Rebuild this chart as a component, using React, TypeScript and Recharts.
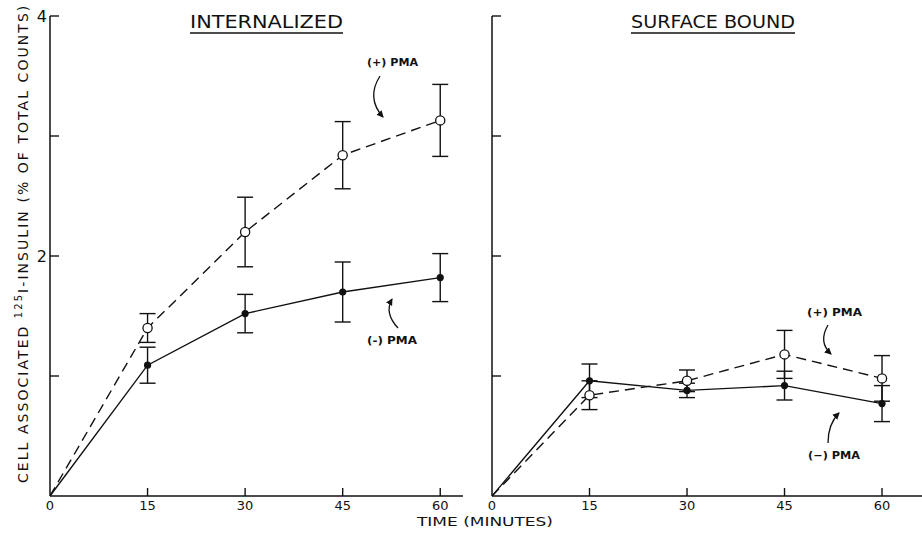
import { ErrorBar, Line, LineChart, XAxis, YAxis } from "recharts";

const times = [0, 15, 30, 45, 60];
const yTicks = [0, 1, 2, 3, 4];

// internalized
const intPlus = [0, 1.40, 2.20, 2.84, 3.13];
const intPlusErr = [0, 0.12, 0.29, 0.28, 0.30];
const intMinus = [0, 1.09, 1.52, 1.70, 1.82];
const intMinusErr = [0, 0.15, 0.16, 0.25, 0.20];

// surface bound
const surfPlus = [0, 0.84, 0.96, 1.18, 0.98];
const surfPlusErr = [0, 0.12, 0.09, 0.20, 0.19];
const surfMinus = [0, 0.96, 0.88, 0.92, 0.77];
const surfMinusErr = [0, 0.14, 0.06, 0.12, 0.15];

const leftYLabels: Record<number, string> = { 4: "4", 2: "2" };

const internalData = times.map((t, i) => ({
  time: t,
  plus: intPlus[i],
  plusErr: intPlusErr[i],
  minus: intMinus[i],
  minusErr: intMinusErr[i],
}));

const surfaceData = times.map((t, i) => ({
  time: t,
  plus: surfPlus[i],
  plusErr: surfPlusErr[i],
  minus: surfMinus[i],
  minusErr: surfMinusErr[i],
}));

const FONT = "'DejaVu Sans', sans-serif";
const INK = "#111";

const XTick = (props: any) => {
  const { x, y, payload } = props;
  return (
    <g>
      {payload.value !== 0 && <line x1={x} y1={y} x2={x} y2={y - 8} stroke={INK} strokeWidth={1.4}/>}
      <text x={x} y={y + 14} textAnchor="middle" fontFamily={FONT} fontSize={13} fill={INK}>
        {payload.value}
      </text>
    </g>
  );
};

const YTick = (props: any) => {
  const { x, y, payload, labels } = props;
  const label = labels ? labels[payload.value] : undefined;
  return (
    <g>
      {payload.value !== 0 && <line x1={x} y1={y} x2={x + 9} y2={y} stroke={INK} strokeWidth={1.4}/>}
      {label && (
        <text x={x - 3} y={y + 6} textAnchor="end" fontFamily={FONT} fontSize={16} fill={INK}>
          {label}
        </text>
      )}
    </g>
  );
};

const OpenDot = (props: any) => {
  const { cx, cy, payload, index } = props;
  if (payload.time === 0) return <g key={`o-${index}`}/>;
  return <circle key={`o-${index}`} cx={cx} cy={cy} r={4.6} fill="#fff" stroke={INK} strokeWidth={1.3}/>;
};

const FilledDot = (props: any) => {
  const { cx, cy, payload, index } = props;
  if (payload.time === 0) return <g key={`f-${index}`}/>;
  return <circle key={`f-${index}`} cx={cx} cy={cy} r={3.6} fill={INK}/>;
};

function Panel({ data, width, yWidth, xMax, labels }: any) {
  return (
    <LineChart
      width={width}
      height={535}
      data={data}
      margin={{ top: 16, right: 0, bottom: 0, left: 0 }}
    >
      <XAxis
        dataKey="time"
        type="number"
        domain={[0, xMax]}
        ticks={times}
        allowDataOverflow
        height={39}
        tickSize={0}
        tickMargin={0}
        tickLine={false}
        axisLine={{ stroke: INK, strokeWidth: 1.5 }}
        tick={(p: any) => <XTick {...p}/>}
      />
      <YAxis
        type="number"
        domain={[0, 4]}
        ticks={yTicks}
        width={yWidth}
        tickSize={0}
        tickMargin={0}
        tickLine={false}
        axisLine={{ stroke: INK, strokeWidth: 1.5 }}
        tick={(p: any) => <YTick {...p} labels={labels}/>}
      />
      <Line
        dataKey="plus"
        stroke={INK}
        strokeWidth={1.4}
        strokeDasharray="10 6"
        dot={OpenDot}
        activeDot={false}
        isAnimationActive={false}
      >
        <ErrorBar dataKey="plusErr" direction="y" width={8} stroke={INK} strokeWidth={1.4}/>
      </Line>
      <Line
        dataKey="minus"
        stroke={INK}
        strokeWidth={1.4}
        dot={FilledDot}
        activeDot={false}
        isAnimationActive={false}
      >
        <ErrorBar dataKey="minusErr" direction="y" width={8} stroke={INK} strokeWidth={1.4}/>
      </Line>
    </LineChart>
  );
}

function Overlay() {
  const small = { fontFamily: FONT, fontSize: 10, fill: INK, fontWeight: 600 } as const;
  const arrow = { fill: "none", stroke: INK, strokeWidth: 1.3, markerEnd: "url(#head)" } as const;
  return (
    <svg width={922} height={535} style={{ position: "absolute", left: 0, top: 0, pointerEvents: "none" }}>
      <defs>
        <marker id="head" markerWidth="8" markerHeight="8" refX="6" refY="4" orient="auto" markerUnits="userSpaceOnUse">
          <path d="M0,0.5 L7,4 L0,7.5 Z" fill={INK}/>
        </marker>
      </defs>

      <text x={190} y={28} textLength={153} lengthAdjust="spacingAndGlyphs" fontFamily={FONT} fontSize={17} fill={INK}>INTERNALIZED</text>
      <line x1={190} y1={33} x2={343} y2={33} stroke={INK} strokeWidth={1.3}/>
      <text x={631} y={28} textLength={164} lengthAdjust="spacingAndGlyphs" fontFamily={FONT} fontSize={17} fill={INK}>SURFACE BOUND</text>
      <line x1={631} y1={33} x2={795} y2={33} stroke={INK} strokeWidth={1.3}/>

      <text
        transform="translate(28,483) rotate(-90)"
        fontFamily={FONT}
        fontSize={14}
        fill={INK}
        letterSpacing={2.05}
      >
        CELL ASSOCIATED <tspan fontSize={10} dy={-6}>125</tspan><tspan dy={6}>I-INSULIN (% OF TOTAL COUNTS)</tspan>
      </text>

      <text x={417} y={526} textLength={136} lengthAdjust="spacingAndGlyphs" fontFamily={FONT} fontSize={13} fill={INK}>TIME (MINUTES)</text>

      <text x={367} y={66} textLength={51} lengthAdjust="spacingAndGlyphs" {...small}>(+) PMA</text>
      <path d="M380,76 Q366,98 383,117" {...arrow}/>
      <text x={367} y={344} textLength={50} lengthAdjust="spacingAndGlyphs" {...small}>(-) PMA</text>
      <path d="M398,328 Q384,313 392,299" {...arrow}/>

      <text x={807} y={316} textLength={55} lengthAdjust="spacingAndGlyphs" {...small}>(+) PMA</text>
      <path d="M828,325 Q818,342 831,354" {...arrow}/>
      <text x={808} y={459} textLength={52} lengthAdjust="spacingAndGlyphs" {...small}>(−) PMA</text>
      <path d="M828,443 Q828,424 839,413" {...arrow}/>
    </svg>
  );
}

export default function App() {
  return (
    <div style={{ position: "absolute", left: 0, top: 0, width: 922, height: 535, background: "#fff" }}>
      <div style={{ position: "absolute", left: 0, top: 0 }}>
        <Panel data={internalData} width={463} yWidth={50} xMax={63.5} labels={leftYLabels}/>
      </div>
      <div style={{ position: "absolute", left: 470, top: 0 }}>
        <Panel data={surfaceData} width={452} yWidth={22} xMax={66.15}/>
      </div>
      <Overlay/>
    </div>
  );
}
